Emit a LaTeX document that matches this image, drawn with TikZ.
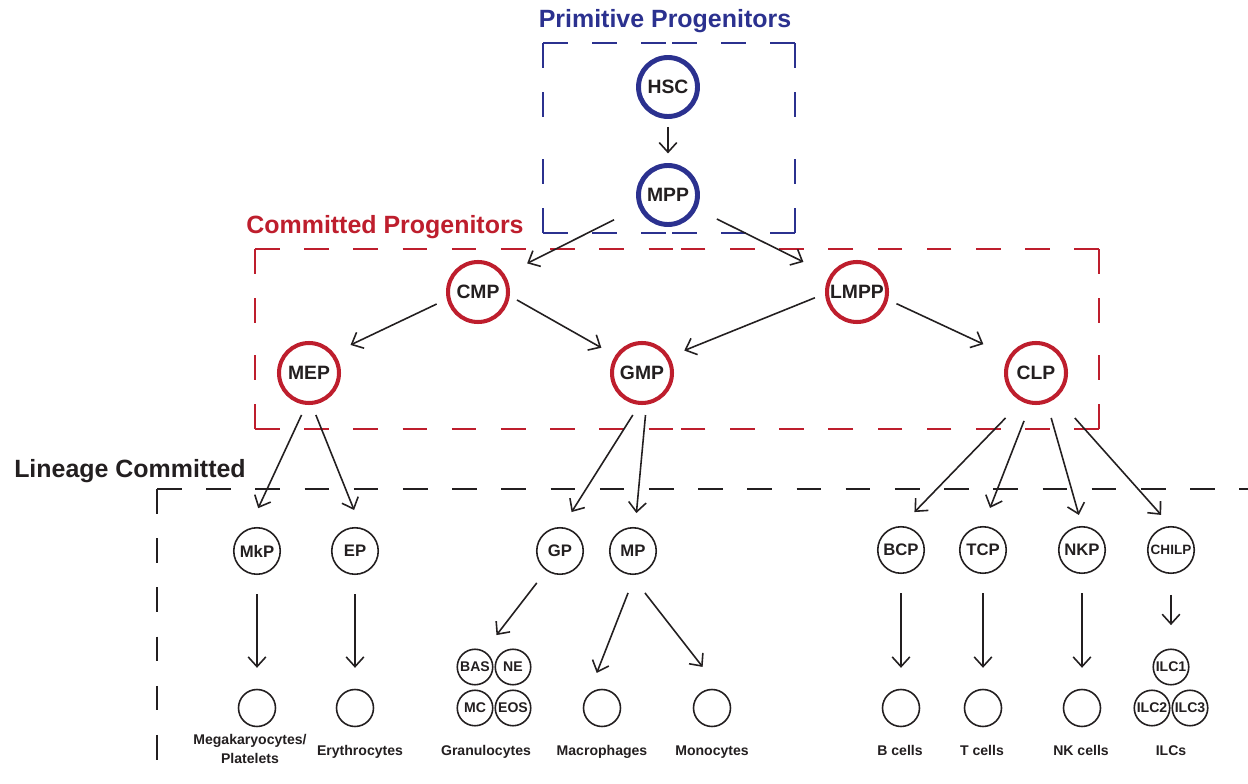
\documentclass[tikz,border=0pt]{standalone}
\usepackage{fontspec}
\setmainfont{Liberation Sans}
\usetikzlibrary{arrows.meta}
\definecolor{primblue}{RGB}{43,49,143}
\definecolor{commred}{RGB}{190,30,45}
\definecolor{ink}{RGB}{35,31,32}
\tikzset{
  prim/.style={circle,draw=primblue,line width=2.8pt,minimum size=1.18cm,inner sep=0pt,text=ink,font=\bfseries\fontsize{11}{13}\selectfont},
  comm/.style={prim,draw=commred,line width=2.3pt,minimum size=1.2cm},
  lin/.style={circle,draw=ink,line width=0.9pt,minimum size=0.93cm,inner sep=0pt,text=ink,font=\bfseries\fontsize{9.5}{11}\selectfont},
  cell/.style={lin,minimum size=0.74cm},
  subcell/.style={lin,minimum size=0.71cm,font=\bfseries\fontsize{8}{9}\selectfont},
  lbl/.style={text=ink,align=center,font=\bfseries\fontsize{8}{10.6}\selectfont},
  heading/.style={anchor=base,font=\bfseries\fontsize{14.2}{16}\selectfont},
  arr/.style={draw=ink,line width=0.9pt,-{Straight Barb[length=5.5pt,width=10pt]}},
  grp/.style={line width=1.3pt,dash pattern=on 14pt off 14pt}
}
\begin{document}
\begin{tikzpicture}[x=0.02cm,y=-0.02cm]
  \useasboundingbox (0,0) rectangle (1248,784);
  \fill[white] (0,0) rectangle (1248,784);
  % group frames, each side dashed from its corners
  \foreach \cx/\cy/\mx/\my in {543/43/669/43, 795/43/669/43, 795/43/795/138, 795/233/795/138,
      795/233/669/233, 543/233/669/233, 543/233/543/138, 543/43/543/138}
    \draw[grp,primblue] (\cx,\cy) -- (\mx,\my);
  \foreach \cx/\cy/\mx/\my in {255/249/677/249, 1099/249/677/249, 1099/249/1099/339, 1099/429/1099/339,
      1099/429/677/429, 255/429/677/429, 255/429/255/339, 255/249/255/339}
    \draw[grp,commred] (\cx,\cy) -- (\mx,\my);
  \draw[grp,ink] (157,489) -- (157,784);
  \draw[grp,ink] (157,489) -- (1248,489);
  \node[heading,text=primblue] (primtitle) at (665,28) {Primitive Progenitors};
  \node[heading,text=commred] (committitle) at (385,234) {Committed Progenitors};
  \node[heading,text=ink] (lineagetitle) at (130,477) {Lineage Committed};
  % progenitors
  \node[prim] (hsc) at (668,87) {HSC};
  \node[prim] (mpp) at (668,195) {MPP};
  \node[comm] (cmp) at (478,292) {CMP};
  \node[comm] (lmpp) at (857,292) {LMPP};
  \node[comm] (mep) at (309,373) {MEP};
  \node[comm] (gmp) at (642,373) {GMP};
  \node[comm] (clp) at (1036,373) {CLP};
  % lineage committed progenitors
  \node[lin] (mkp) at (257,551) {MkP};
  \node[lin] (ep) at (355,551) {EP};
  \node[lin] (gp) at (560,551) {GP};
  \node[lin] (mp) at (633,551) {MP};
  \node[lin] (bcp) at (901,550) {BCP};
  \node[lin] (tcp) at (983,550) {TCP};
  \node[lin] (nkp) at (1082,550) {NKP};
  \node[lin,font=\bfseries\fontsize{7.7}{9}\selectfont] (chilp) at (1171,550) {CHILP};
  % mature cells
  \node[cell] (mk) at (257,708) {};
  \node[cell] (ery) at (355,708) {};
  \node[subcell] (bas) at (475,667) {BAS};
  \node[subcell] (ne) at (513,667) {NE};
  \node[subcell] (mc) at (475,708) {MC};
  \node[subcell] (eos) at (513,708) {EOS};
  \node[cell] (mac) at (602,708) {};
  \node[cell] (mono) at (712,708) {};
  \node[cell] (bcell) at (901,708) {};
  \node[cell] (tcell) at (983,708) {};
  \node[cell] (nkcell) at (1082,708) {};
  \node[subcell] (ilc1) at (1171,667) {ILC1};
  \node[subcell] (ilc2) at (1152,708) {ILC2};
  \node[subcell] (ilc3) at (1190,708) {ILC3};
  \node[lbl] (mklbl) at (250,749) {Megakaryocytes/\\Platelets};
  \node[lbl,anchor=base] (erylbl) at (360,755) {Erythrocytes};
  \node[lbl,anchor=base] (granlbl) at (486,755) {Granulocytes};
  \node[lbl,anchor=base] (maclbl) at (602,755) {Macrophages};
  \node[lbl,anchor=base] (monolbl) at (712,755) {Monocytes};
  \node[lbl,anchor=base] (blbl) at (900,755) {B cells};
  \node[lbl,anchor=base] (tlbl) at (982,755) {T cells};
  \node[lbl,anchor=base] (nklbl) at (1081,755) {NK cells};
  \node[lbl,anchor=base] (ilclbl) at (1171,755) {ILCs};
  % arrows
  \draw[arr,shorten <=4.5pt,shorten >=5.5pt] (hsc) -- (mpp);
  \draw[arr,shorten <=15.6pt,shorten >=14.2pt] (mpp.-157) -- (cmp.33);
  \draw[arr,shorten <=12.8pt,shorten >=16.8pt] (mpp.-26) -- (lmpp.148);
  \draw[arr,shorten <=6.4pt,shorten >=10.5pt] (cmp.-167) -- (mep.39);
  \draw[arr,shorten <=4.7pt,shorten >=9pt] (cmp.-7) -- (gmp.147);
  \draw[arr,shorten <=6.2pt,shorten >=9.1pt] (lmpp.-177) -- (gmp.31);
  \draw[arr,shorten <=5.3pt,shorten >=16pt] (lmpp.-14) -- (clp.148);
  \draw[arr,shorten <=6.3pt,shorten >=12.7pt] (mep.-95) -- (mkp.110);
  \draw[arr,shorten <=6.2pt,shorten >=10.9pt] (mep.-85) -- (ep.75);
  \draw[arr,shorten <=6.8pt,shorten >=10.1pt] (gmp.-95) -- (gp.85);
  \draw[arr,shorten <=5.9pt,shorten >=8pt] (gmp.-82) -- (mp.85);
  \draw[arr,shorten <=13pt,shorten >=11pt] (clp.-117) -- (bcp.north);
  \draw[arr,shorten <=10pt,shorten >=11pt] (clp.-100) -- (tcp.north);
  \draw[arr,shorten <=8.8pt,shorten >=6.5pt] (clp.-70) -- (nkp.north);
  \draw[arr,shorten <=15.6pt,shorten >=8.4pt] (clp.-50) -- (chilp.north);
  \draw[arr,shorten <=10.8pt,shorten >=11.9pt] (mkp) -- (mk);
  \draw[arr,shorten <=10.8pt,shorten >=11.9pt] (ep) -- (ery);
  \draw[arr,shorten <=8.8pt,shorten >=11.4pt] (gp.-125) -- (bas.60);
  \draw[arr,shorten <=11pt,shorten >=13.1pt] (mp.-85) -- (mac.135);
  \draw[arr,shorten <=13pt,shorten >=17.6pt] (mp.-95) -- (mono.60);
  \draw[arr,shorten <=10.8pt,shorten >=11.9pt] (bcp) -- (bcell);
  \draw[arr,shorten <=10.8pt,shorten >=11.9pt] (tcp) -- (tcell);
  \draw[arr,shorten <=10.8pt,shorten >=11.9pt] (nkp) -- (nkcell);
  \draw[arr,shorten <=11.9pt,shorten >=13.3pt] (chilp) -- (ilc1);
\end{tikzpicture}
\end{document}
